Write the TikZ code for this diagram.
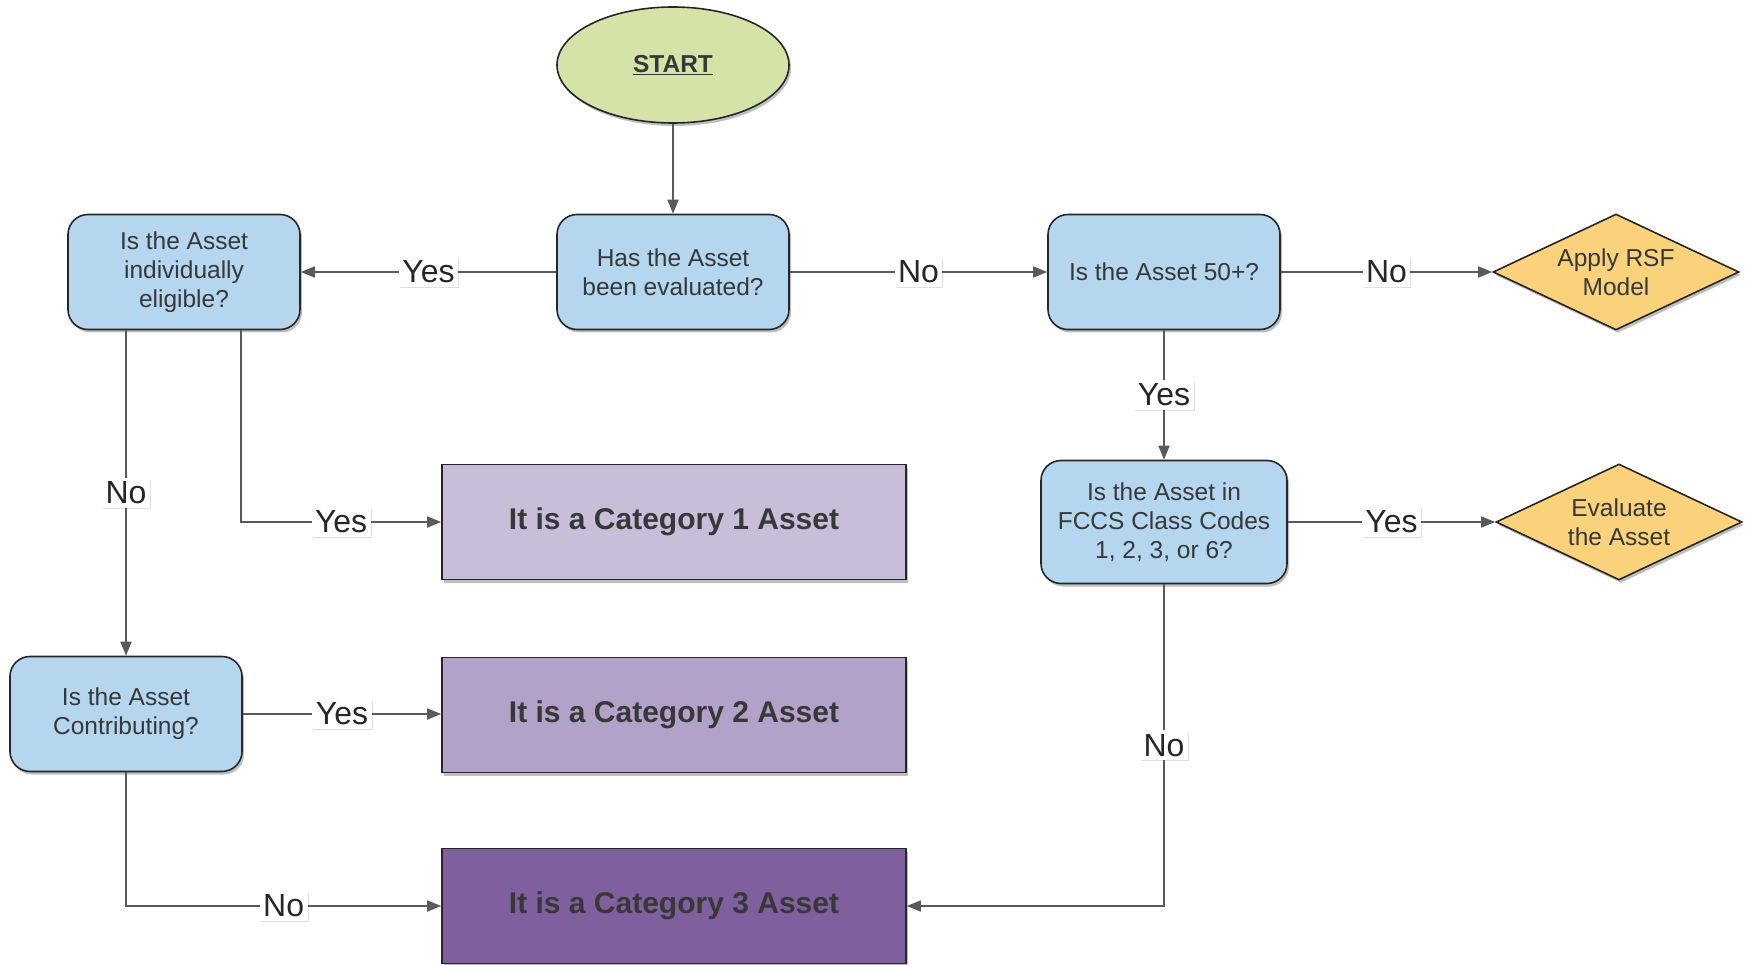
\documentclass[tikz,border=0pt]{standalone}
\usepackage{fontspec}
\setmainfont{Liberation Sans}
\usetikzlibrary{shapes.geometric,arrows.meta,shadows}

\definecolor{startgreen}{HTML}{D6E3A8}
\definecolor{qblue}{HTML}{B4D6EF}
\definecolor{actgold}{HTML}{FAD27C}
\definecolor{catone}{HTML}{C9BEDA}
\definecolor{cattwo}{HTML}{B2A1C9}
\definecolor{catthree}{HTML}{7F5F9E}
\definecolor{inkgray}{HTML}{383838}
\definecolor{linegray}{HTML}{5A5A5A}

\begin{document}
\begin{tikzpicture}[x=1pt,y=-1pt,
  base/.style={draw=black!85, line width=1.6pt, text=inkgray,
    drop shadow={shadow xshift=2pt, shadow yshift=-3pt, opacity=0.25, fill=black}},
  terminal/.style={base, ellipse, fill=startgreen, minimum width=232pt, minimum height=116pt,
    font=\fontsize{24.5}{28}\selectfont\bfseries},
  question/.style={base, rounded corners=20pt, fill=qblue, minimum width=232pt,
    minimum height=115pt, align=center, inner sep=0pt, font=\fontsize{24.5}{29}\selectfont},
  action/.style={base, diamond, fill=actgold, aspect=2.1, inner sep=0pt,
    minimum width=246pt, minimum height=116pt, align=center, font=\fontsize{24.5}{29}\selectfont},
  category/.style={base, fill=#1, minimum width=464pt, minimum height=115pt,
    font=\fontsize{30}{34}\selectfont\bfseries},
  flow/.style={draw=linegray, line width=1.7pt, -{Triangle[length=14pt,width=11pt]}},
  lab/.style={fill=white, text=black!85, inner sep=3.5pt, font=\fontsize{32}{32}\selectfont,
    drop shadow={shadow xshift=1pt, shadow yshift=-1.5pt, opacity=0.12, fill=black}}
]
\useasboundingbox (0,0) rectangle (1750,965);

% decision and result nodes
\node[terminal] (start) at (673,65) {\underline{START}};
\node[question] (has) at (673,272) {Has the Asset\\been evaluated?};
\node[question] (elig) at (184,272) {Is the Asset\\individually\\eligible?};
\node[question] (fifty) at (1164,272) {Is the Asset 50+?};
\node[action] (rsf) at (1616,272) {Apply RSF\\Model};
\node[question, minimum width=246pt, minimum height=123pt] (fccs) at (1164,522)
  {Is the Asset in\\FCCS Class Codes\\1, 2, 3, or 6?};
\node[action] (evalq) at (1619,522) {Evaluate\\the Asset};
\node[question] (contrib) at (126,714) {Is the Asset\\Contributing?};
\node[category=catone] (cat1) at (674,522) {It is a Category 1 Asset};
\node[category=cattwo] (cat2) at (674,715) {It is a Category 2 Asset};
\node[category=catthree] (cat3) at (674,906) {It is a Category 3 Asset};

% connectors
\draw[flow] (start) -- (has);
\draw[flow] (has) -- node[lab] {Yes} (elig);
\draw[flow] (has) -- node[lab] {No} (fifty);
\draw[flow] (fifty) -- node[lab] {No} (rsf);
\draw[flow] (fifty) -- node[lab] {Yes} (fccs);
\draw[flow] (fccs) -- node[lab] {Yes} (evalq);
\draw[flow] (fccs.south) |- node[lab, pos=0.25] {No} (cat3.east);
\draw[flow] ([xshift=57pt]elig.south) |- node[lab, pos=0.75] {Yes} (cat1.west);
\draw[flow] (contrib.north |- elig.south) -- node[lab] {No} (contrib.north);
\draw[flow] (contrib.east) -- node[lab] {Yes} (contrib.east -| cat2.west);
\draw[flow] (contrib.south) |- node[lab, pos=0.75] {No} (cat3.west);
\end{tikzpicture}
\end{document}
